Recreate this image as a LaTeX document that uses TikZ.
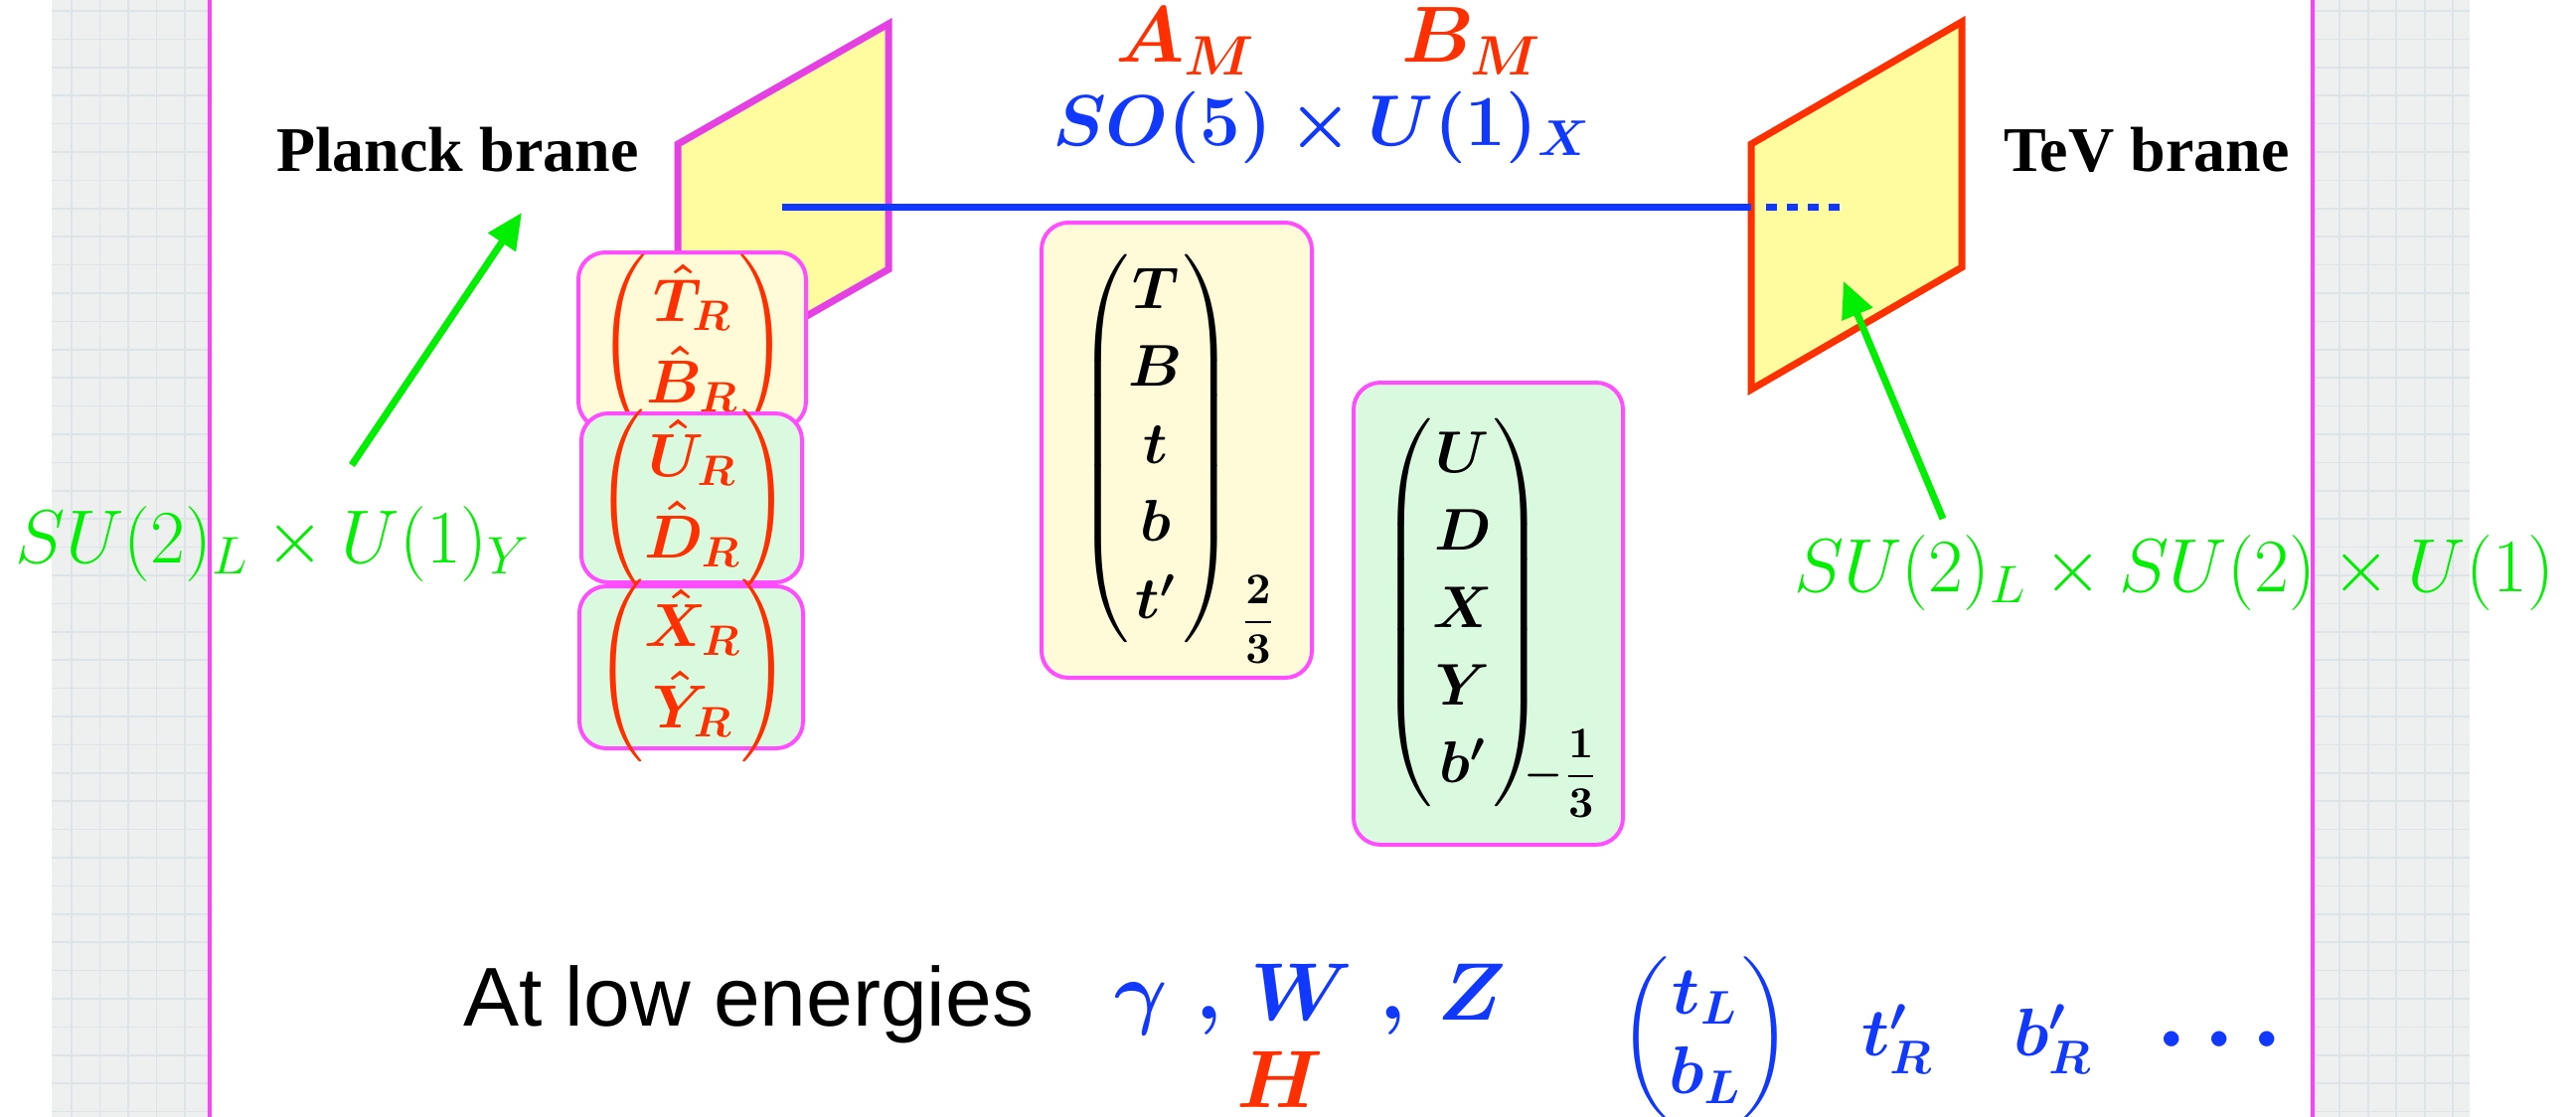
\documentclass[tikz,border=0pt]{standalone}
\usepackage{amsmath}
\usepackage[no-math]{fontspec}
\usetikzlibrary{arrows.meta}
\DeclareFontFamily{OML}{cmm}{\skewchar\font127 }
\DeclareFontShape{OML}{cmm}{m}{it}{<-6>cmmi5<6-7>cmmi6<7-8>cmmi7<8-9>cmmi8<9-10>cmmi9<10-12>cmmi10<12->cmmi12}{}
\DeclareFontShape{OML}{cmm}{b}{it}{<-8>cmmib7<8->cmmib10}{}
\DeclareFontFamily{OMS}{cmsy}{\skewchar\font48 }
\DeclareFontShape{OMS}{cmsy}{m}{n}{<-6>cmsy5<6-7>cmsy6<7-8>cmsy7<8-9>cmsy8<9-10>cmsy9<10->cmsy10}{}
\DeclareFontShape{OMS}{cmsy}{b}{n}{<-8>cmbsy7<8->cmbsy10}{}
\DeclareFontFamily{OT1}{cmr}{\hyphenchar\font45 }
\DeclareFontShape{OT1}{cmr}{m}{n}{<-6>cmr5<6-7>cmr6<7-8>cmr7<8-9>cmr8<9-10>cmr9<10-12>cmr10<12-17>cmr12<17->cmr17}{}
\DeclareFontShape{OT1}{cmr}{bx}{n}{<-6>cmbx5<6-7>cmbx6<7-8>cmbx7<8-9>cmbx8<9-10>cmbx9<10-12>cmbx10<12->cmbx12}{}
\DeclareFontFamily{OMX}{cmex}{}
\DeclareFontShape{OMX}{cmex}{m}{n}{<->cmex10}{}
\newfontfamily\brfont{Liberation Serif}
\newfontfamily\lowfont{Liberation Sans}
\DeclareSymbolFont{bletters}{OML}{cmm}{b}{it}
\DeclareSymbolFont{bsymbols}{OMS}{cmsy}{b}{n}
\DeclareSymbolFont{bops}{OT1}{cmr}{bx}{n}
\DeclareSymbolFontAlphabet{\mbi}{bletters}
\DeclareSymbolFontAlphabet{\mbf}{bops}
\DeclareMathSymbol{\btimes}{\mathbin}{bsymbols}{"02}
\DeclareMathSymbol{\bminus}{\mathbin}{bsymbols}{"00}
\DeclareMathSymbol{\bprime}{\mathord}{bsymbols}{"30}
\DeclareMathSymbol{\bcdotp}{\mathpunct}{bsymbols}{"01}
\DeclareMathSymbol{\bgamma}{\mathord}{bletters}{"0D}
\DeclareMathSymbol{\bcomma}{\mathpunct}{bletters}{"3B}
\DeclareMathSymbol{\blp}{\mathopen}{bops}{"28}
\DeclareMathSymbol{\brp}{\mathclose}{bops}{"29}
\DeclareMathAccent{\bhat}{\mathalpha}{bops}{"5E}
\newcommand{\myfs}[2]{\fontsize{#1}{#2}\selectfont}
\newcommand{\stk}[1]{\left(\vcenter{\halign{\hfil\vrule height .7\baselineskip depth .3\baselineskip width 0pt$##$\hfil\cr#1}}\right)}
\definecolor{stripgray}{RGB}{238,240,240}
\definecolor{gridc}{RGB}{220,228,232}
\definecolor{framemag}{RGB}{255,64,255}
\definecolor{planckmag}{RGB}{228,64,228}
\definecolor{boxmag}{RGB}{255,77,255}
\definecolor{braneyellow}{RGB}{255,252,160}
\definecolor{cream}{RGB}{255,250,215}
\definecolor{mint}{RGB}{217,250,223}
\definecolor{myred}{RGB}{255,48,0}
\definecolor{myblue}{RGB}{16,56,255}
\definecolor{mygreen}{RGB}{0,238,0}
\tikzset{
  txt/.style={inner sep=0pt, outer sep=0pt},
  brane/.style={line width=1.75pt, fill=braneyellow, line join=miter},
  boxy/.style={draw=boxmag, line width=1pt, rounded corners=6.75pt, inner sep=0pt, outer sep=0pt, rectangle},
  gline/.style={draw=gridc, line width=0.4pt},
  garrow/.style={draw=mygreen, line width=1.75pt, -{Triangle[length=9pt,width=8pt]}},
  bline/.style={draw=myblue, line width=1.75pt},
}
\begin{document}
\begin{tikzpicture}[x=0.25pt,y=-0.25pt]
\useasboundingbox (0,0) rectangle (2592,1124);
\fill[white] (0,0) rectangle (2592,1124);
% side strips
\fill[stripgray] (52,0) rectangle (210,1124);
\fill[stripgray] (2327,0) rectangle (2485,1124);
\foreach \gx in {72,100.5,129,157.5,186} {\draw[gline] (\gx,0) -- (\gx,1124);}
\foreach \gx in {2354,2383,2411,2440,2468} {\draw[gline] (\gx,0) -- (\gx,1124);}
\foreach \gi in {0,...,39} {
  \draw[gline] (52,{11+28.4*\gi}) -- (210,{11+28.4*\gi});
  \draw[gline] (2327,{11+28.4*\gi}) -- (2485,{11+28.4*\gi});
}
% labels
\node[txt, anchor=base west] (planck) at (278,172) {\brfont\bfseries\myfs{16}{19}Planck brane};
\node[txt, anchor=base west] (tev) at (2016,172) {\brfont\bfseries\myfs{16}{19}TeV brane};
\node[txt, anchor=base west] (low) at (466,1032) {\lowfont\myfs{21}{25}At low energies};
\node[txt, anchor=base west, text=mygreen] (gl) at (16,566) {\myfs{19}{23}$SU(2)_L\times U(1)_Y$};
\node[txt, anchor=base west, text=mygreen] (gr) at (1805,595) {\myfs{19}{23}$SU(2)_L\times SU(2)\times U(1)$};
\node[txt, anchor=base west, text=myred] (am) at (1122,63) {\myfs{20}{23}$\mbi{A}_{\mbi{M}}$};
\node[txt, anchor=base west, text=myred] (bm) at (1410,63) {\myfs{20}{23}$\mbi{B}_{\mbi{M}}$};
\node[txt, anchor=base west, text=myblue] (so) at (1059,146) {\myfs{18.1}{21}$\mbi{SO}\blp\mbf{5}\brp\btimes\mbi{U}\blp\mbf{1}\brp_{\mbi{X}}$};
% branes
\draw[brane, draw=planckmag] (682,145) -- (894,24) -- (894,271) -- (682,392) -- cycle;
\draw[brane, draw=myred] (1762,145) -- (1974,22) -- (1974,269) -- (1762,392) -- cycle;
% bulk line
\coordinate (ls) at (787,208);
\coordinate (le) at (1762,208);
\coordinate (ds) at (1777,208);
\coordinate (de) at (1852,208);
\draw[bline] (ls) -- (le);
\draw[bline, dash pattern=on 2.75pt off 2.5pt] (ds) -- (de);
% bulk multiplets
\node[boxy, fill=cream, minimum width=68pt, minimum height=114.5pt] (b4) at (1184,453) {};
\node[txt] (m4) at (1163,451) {\myfs{14.8}{19.5}$\stk{\mbi{T}\cr \mbi{B}\cr \mbi{t}\cr \mbi{b}\cr \mbi{t}^{\bprime}\cr}$};
\node[txt] (q4) at (1266,623) {\myfs{11}{13}$\displaystyle\frac{\mbf{2}}{\mbf{3}}$};
\node[boxy, fill=mint, minimum width=67.75pt, minimum height=116.25pt] (b5) at (1497.5,617.5) {};
\node[txt] (m5) at (1472,616) {\myfs{14.8}{19.5}$\stk{\mbi{U}\cr \mbi{D}\cr \mbi{X}\cr \mbi{Y}\cr \mbi{b}^{\bprime}\cr}$};
\node[txt] (q5) at (1571,778) {\myfs{11}{13}$\displaystyle\bminus\frac{\mbf{1}}{\mbf{3}}$};
% Planck brane boxes
\node[boxy, fill=cream, minimum width=57.25pt, minimum height=44.25pt] (b1) at (696.5,342.5) {};
\node[txt, text=myred] (m1) at (697,348) {\myfs{15.3}{20.5}$\stk{\bhat{\mbi{T}}_{\mbi{R}}\cr \bhat{\mbi{B}}_{\mbi{R}}\cr}$};
\node[boxy, fill=mint, minimum width=55.5pt, minimum height=42.5pt] (b2) at (696,501) {};
\node[txt, text=myred] (m2) at (697,504) {\myfs{15.3}{20.5}$\stk{\bhat{\mbi{U}}_{\mbi{R}}\cr \bhat{\mbi{D}}_{\mbi{R}}\cr}$};
\node[boxy, fill=mint, minimum width=56.25pt, minimum height=40.75pt] (b3) at (695.5,671.5) {};
\node[txt, text=myred] (m3) at (697,675) {\myfs{15.3}{20.5}$\stk{\bhat{\mbi{X}}_{\mbi{R}}\cr \bhat{\mbi{Y}}_{\mbi{R}}\cr}$};
% arrows
\coordinate (a1s) at (354,468);
\coordinate (a1e) at (525,214);
\coordinate (a2s) at (1955,522);
\coordinate (a2e) at (1855,283);
\draw[garrow] (a1s) -- (a1e);
\draw[garrow] (a2s) -- (a2e);
% low energies
\node[txt, anchor=base west, text=myblue] (ga) at (1121,1025) {\myfs{20.5}{23}$\bgamma$};
\node[txt, anchor=base west, text=myblue] (c1) at (1203,1025) {\myfs{20.5}{23}$\bcomma$};
\node[txt, anchor=base west, text=myblue] (w) at (1258,1026) {\myfs{20.5}{23}$\mbi{W}$};
\node[txt, anchor=base west, text=myblue] (c2) at (1388,1025) {\myfs{20.5}{23}$\bcomma$};
\node[txt, anchor=base west, text=myblue] (z) at (1446,1026) {\myfs{20.5}{23}$\mbi{Z}$};
\node[txt, anchor=base west, text=myred] (h) at (1244,1114) {\myfs{20.5}{23}$\mbi{H}$};
\node[txt, text=myblue] (tb) at (1716,1044) {\myfs{17}{20}$\stk{\mbi{t}_{\mbi{L}}\cr \mbi{b}_{\mbi{L}}\cr}$};
\node[txt, anchor=base west, text=myblue] (tr) at (1873,1062) {\myfs{17}{20}$\mbi{t}^{\bprime}_{\mbi{R}}$};
\node[txt, anchor=base west, text=myblue] (br) at (2026,1062) {\myfs{17}{20}$\mbi{b}^{\bprime}_{\mbi{R}}$};
\node[txt, anchor=base, text=myblue] (dots) at (2233,1070) {\myfs{24.7}{28}$\mathinner{\bcdotp\bcdotp\bcdotp}$};
% frame lines
\draw[draw=framemag, line width=1pt] (211,0) -- (211,1124);
\draw[draw=framemag, line width=1pt] (2327,0) -- (2327,1124);
\end{tikzpicture}
\end{document}
